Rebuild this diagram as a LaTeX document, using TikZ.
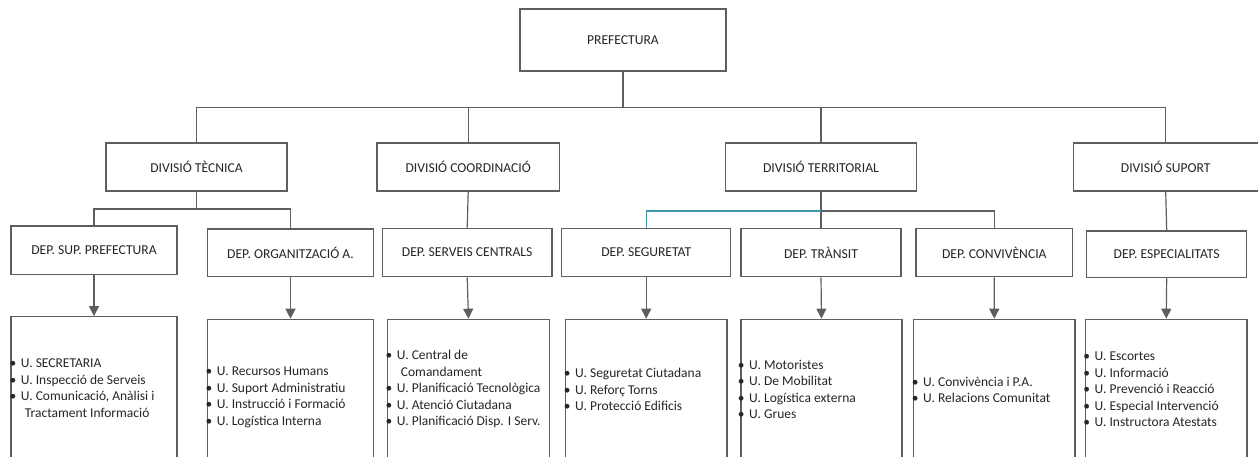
\documentclass[tikz,border=0pt]{standalone}
\usepackage{fontspec}
\setmainfont{Carlito}
\usetikzlibrary{arrows.meta}
\definecolor{linegray}{HTML}{5E5E5E}
\definecolor{txt}{HTML}{262626}
\definecolor{tealline}{HTML}{3E97A8}
\newcommand{\hdrfont}{\fontsize{13.6}{16}\selectfont}
\newcommand{\listfont}{\fontsize{13.5}{16.5}\selectfont}
\newcommand{\bitem}{\llap{•\hspace{4.5pt}}}
\tikzset{
  box/.style={draw=linegray, line width=1.2pt, fill=white, inner sep=0pt, font=\hdrfont, text=txt},
  conn/.style={draw=linegray, line width=1.2pt},
  tconn/.style={draw=tealline, line width=1.2pt},
  arr/.style={conn, -{Triangle[width=10pt,length=10pt]}},
  ulist/.style={align=left, inner sep=0pt, font=\listfont, text=txt, anchor=west},
}
\begin{document}
\begin{tikzpicture}[x=1pt,y=-1pt]
\useasboundingbox (0,0) rectangle (1258,457);
\clip (0,0) rectangle (1258,457);
\fill[white] (0,0) rectangle (1258,457);

% top
\node[box, minimum width=206pt, minimum height=62pt] (pre) at (623,40) {PREFECTURA};
% divisions
\node[box, minimum width=181pt, minimum height=48pt] (dt) at (196.5,167) {DIVISIÓ TÈCNICA};
\node[box, minimum width=182.3pt, minimum height=48pt] (dc) at (468.2,167) {DIVISIÓ COORDINACIÓ};
\node[box, minimum width=190.6pt, minimum height=48pt] (dte) at (821,167) {DIVISIÓ TERRITORIAL};
\node[box, minimum width=184.8pt, minimum height=48pt] (ds) at (1165.7,167) {DIVISIÓ SUPORT};

% departments
\node[box, minimum width=166pt, minimum height=48.3pt] (dsp) at (94,250.2) {DEP. SUP. PREFECTURA};
\node[box, minimum width=166.4pt, minimum height=47.7pt] (dorg) at (290.5,252.8) {DEP. ORGANITZACIÓ A.};
\node[box, minimum width=169.7pt, minimum height=48.4pt] (dsc) at (467.2,252.5) {DEP. SERVEIS CENTRALS};
\node[box, minimum width=169pt, minimum height=48.4pt] (dseg) at (646.2,252.5) {DEP. SEGURETAT};
\node[box, minimum width=160pt, minimum height=48.4pt] (dtr) at (821,252.5) {DEP. TRÀNSIT};
\node[box, minimum width=156.7pt, minimum height=48.4pt] (dconv) at (994.3,252.5) {DEP. CONVIVÈNCIA};
\node[box, minimum width=160pt, minimum height=46.7pt] (desp) at (1166.7,254.3) {DEP. ESPECIALITATS};

% unit boxes
\node[box, minimum width=166pt, minimum height=163.3pt] (u1) at (94,398.35) {};
\node[box, minimum width=166.4pt, minimum height=160.7pt] (u2) at (290.5,399.65) {};
\node[box, minimum width=161.6pt, minimum height=160.7pt] (u3) at (468.5,399.65) {};
\node[box, minimum width=161.7pt, minimum height=160.7pt] (u4) at (646.2,399.65) {};
\node[box, minimum width=161pt, minimum height=160.7pt] (u5) at (821.5,399.65) {};
\node[box, minimum width=161.5pt, minimum height=160.7pt] (u6) at (994.25,399.65) {};
\node[box, minimum width=161.7pt, minimum height=160.7pt] (u7) at (1166.2,399.65) {};

% unit texts
\node[ulist] (t1) at (20.7,388) {\bitem U. SECRETARIA\\ \bitem U. Inspecció de Serveis\\ \bitem U. Comunicació, Anàlisi i\\ \hspace*{4pt}Tractament Informació};
\node[ulist] (t2) at (216.7,397.5) {\bitem U. Recursos Humans\\ \bitem U. Suport Administratiu\\ \bitem U. Instrucció i Formació\\ \bitem U. Logística Interna};
\node[ulist] (t3) at (396.7,389.3) {\bitem U. Central de\\ \hspace*{4pt}Comandament\\ \bitem U. Planificació Tecnològica\\ \bitem U. Atenció Ciutadana\\ \bitem U. Planificació Disp. I Serv.};
\node[ulist] (t4) at (575,389.7) {\bitem U. Seguretat Ciutadana\\ \bitem U. Reforç Torns\\ \bitem U. Protecció Edificis};
\node[ulist] (t5) at (749,389.5) {\bitem U. Motoristes\\ \bitem U. De Mobilitat\\ \bitem U. Logística externa\\ \bitem U. Grues};
\node[ulist] (t6) at (923,390) {\bitem U. Convivència i P.A.\\ \bitem U. Relacions Comunitat};
\node[ulist] (t7) at (1094.5,389.3) {\bitem U. Escortes\\ \bitem U. Informació\\ \bitem U. Prevenció i Reacció\\ \bitem U. Especial Intervenció\\ \bitem U. Instructora Atestats};

% connectors top level
\coordinate (j0) at (623,107.5);
\draw[conn] (pre.south) -- (j0);
\draw[conn] (dt.north) |- (j0) -| (ds.north);
\draw[conn] (dc.north) -- (dc.north |- j0);
\draw[conn] (dte.north) -- (dte.north |- j0);

% division tecnica
\coordinate (jt) at (196.5,209);
\draw[conn] (dt.south) -- (jt);
\draw[conn] (dsp.north) |- (jt) -| (dorg.north);

% coordinacio
\draw[conn] (dc.south) -- (dsc.north);

% territorial
\coordinate (jr) at (821,211);
\draw[conn] (dte.south) -- (dtr.north);
\draw[conn] (jr) -| (dconv.north);
\draw[tconn] (dseg.north) |- (jr);

% suport
\draw[conn] (ds.south) -- (desp.north);

% arrows to units
\draw[arr] (dsp.south) -- (u1.north);
\draw[arr] (dorg.south) -- (u2.north);
\draw[arr] (dsc.south) -- (u3.north);
\draw[arr] (dseg.south) -- (u4.north);
\draw[arr] (dtr.south) -- (u5.north);
\draw[arr] (dconv.south) -- (u6.north);
\draw[arr] (desp.south) -- (u7.north);
\end{tikzpicture}
\end{document}
